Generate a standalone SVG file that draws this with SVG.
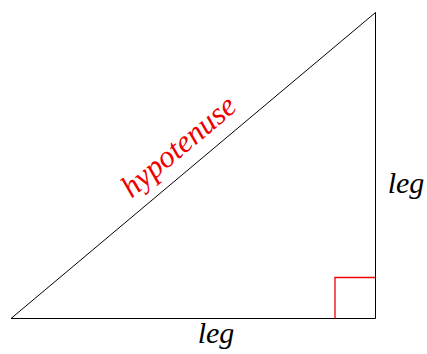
<svg xmlns="http://www.w3.org/2000/svg" width="427" height="354" viewBox="0 0 427 354">
<style>
.edge{fill:none;stroke:#000;stroke-width:1}
.ra{fill:none;stroke:#e00;stroke-width:1.3}
.lbl{font-family:"Liberation Serif","Times New Roman",serif;font-style:italic;text-anchor:middle}
</style>
<rect width="427" height="354" fill="#fff"/>
<g id="connectors">
<polygon class="edge" points="11,318.5 375.5,318.5 375.5,12.5"/>
</g>
<g id="right-angle">
<polyline class="ra" points="335,318.5 335,277.5 375.5,277.5"/>
</g>
<g id="hypotenuse-label">
<text class="lbl" fill="#e00" font-size="31" transform="translate(185,154) rotate(-40)">hypotenuse</text>
</g>
<g id="leg-bottom">
<text class="lbl" font-size="30" x="216" y="343">leg</text>
</g>
<g id="leg-right">
<text class="lbl" font-size="30" x="406" y="193">leg</text>
</g>
</svg>
